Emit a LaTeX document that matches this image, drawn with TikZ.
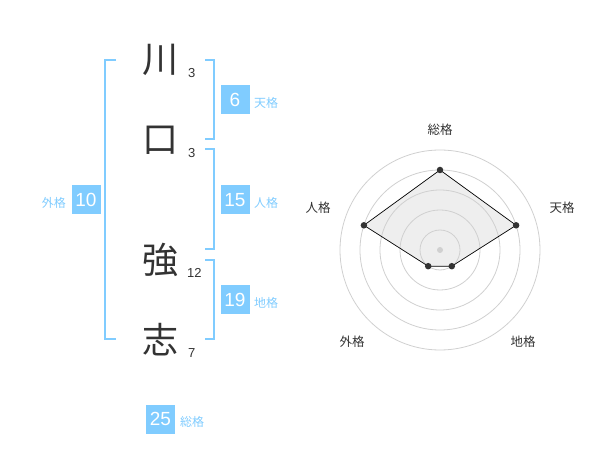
\documentclass[tikz,border=0pt]{standalone}
\usepackage{fontspec}
\setmainfont{Liberation Sans}
\newfontfamily\jp{Noto Sans CJK JP}
\definecolor{kblue}{RGB}{128,204,255}
\definecolor{ink}{RGB}{51,51,51}
\definecolor{ring}{RGB}{208,208,208}
\definecolor{area}{RGB}{238,238,238}
\tikzset{
  kanji/.style={inner sep=0pt, text=ink, font=\jp\fontsize{36}{36}\selectfont},
  strokes/.style={inner sep=0pt, text=ink, font=\fontsize{13}{13}\selectfont},
  badge/.style={fill=kblue, text=white, minimum width=29pt, minimum height=29pt, inner sep=0pt, font=\fontsize{19}{19}\selectfont},
  kaku/.style={inner sep=0pt, text=kblue, font=\jp\fontsize{12}{12}\selectfont},
  bracket/.style={draw=kblue, line width=2pt},
  axislabel/.style={inner sep=0pt, text=ink, font=\jp\fontsize{12.5}{12.5}\selectfont},
  ringline/.style={draw=ring, line width=0.8pt},
  vertex/.style={circle, fill=ink, inner sep=0pt, minimum size=6.5pt},
}
\begin{document}
\begin{tikzpicture}[x=1pt,y=-1pt]
\useasboundingbox (0,0) rectangle (600,470);
% name characters
\node[kanji] (c1) at (160,60) {川};
\node[kanji] (c2) at (160,140) {口};
\node[kanji] (c3) at (160,260) {強};
\node[kanji] (c4) at (160,340) {志};
\node[strokes, anchor=west] (s1) at (188,73) {3};
\node[strokes, anchor=west] (s2) at (188,153) {3};
\node[strokes, anchor=west] (s3) at (187,273) {12};
\node[strokes, anchor=west] (s4) at (188,353) {7};
% brackets
\draw[bracket] (116,60) -- (105,60) -- (105,339) -- (116,339);
\draw[bracket] (205,60) -- (214,60) -- (214,139) -- (205,139);
\draw[bracket] (205,149) -- (214,149) -- (214,249) -- (205,249);
\draw[bracket] (205,260) -- (214,260) -- (214,339) -- (205,339);
% badges
\node[badge] (b1) at (235,100) {6};
\node[kaku, anchor=west] (l1) at (254,103) {天格};
\node[badge] (b2) at (235,200) {15};
\node[kaku, anchor=west] (l2) at (254,203) {人格};
\node[badge] (b3) at (86,200) {10};
\node[kaku, anchor=east] (l3) at (66,203) {外格};
\node[badge] (b4) at (235,300) {19};
\node[kaku, anchor=west] (l4) at (254,303) {地格};
\node[badge] (b5) at (160.5,419) {25};
\node[kaku, anchor=west] (l5) at (180,422) {総格};
% radar chart
\coordinate (o) at (440,250);
\coordinate (psou) at (440,170);
\coordinate (pten) at (516.1,225.3);
\coordinate (pchi) at (451.8,266.2);
\coordinate (pgai) at (428.2,266.2);
\coordinate (pjin) at (363.9,225.3);
\fill[area] (psou) -- (pten) -- (pchi) -- (pgai) -- (pjin) -- cycle;
\foreach \r in {20,40,60,80,100} \draw[ringline] (o) circle (\r pt);
\fill[ring] (o) circle (3pt);
\draw[draw=black, line width=0.7pt] (psou) -- (pten) -- (pchi) -- (pgai) -- (pjin) -- cycle;
\foreach \p in {psou,pten,pchi,pgai,pjin} \node[vertex] at (\p) {};
\node[axislabel] (asou) at (440,130) {総格};
\node[axislabel] (aten) at (562,208) {天格};
\node[axislabel] (achi) at (523,342) {地格};
\node[axislabel] (agai) at (352,342) {外格};
\node[axislabel] (ajin) at (318,208) {人格};
\end{tikzpicture}
\end{document}
